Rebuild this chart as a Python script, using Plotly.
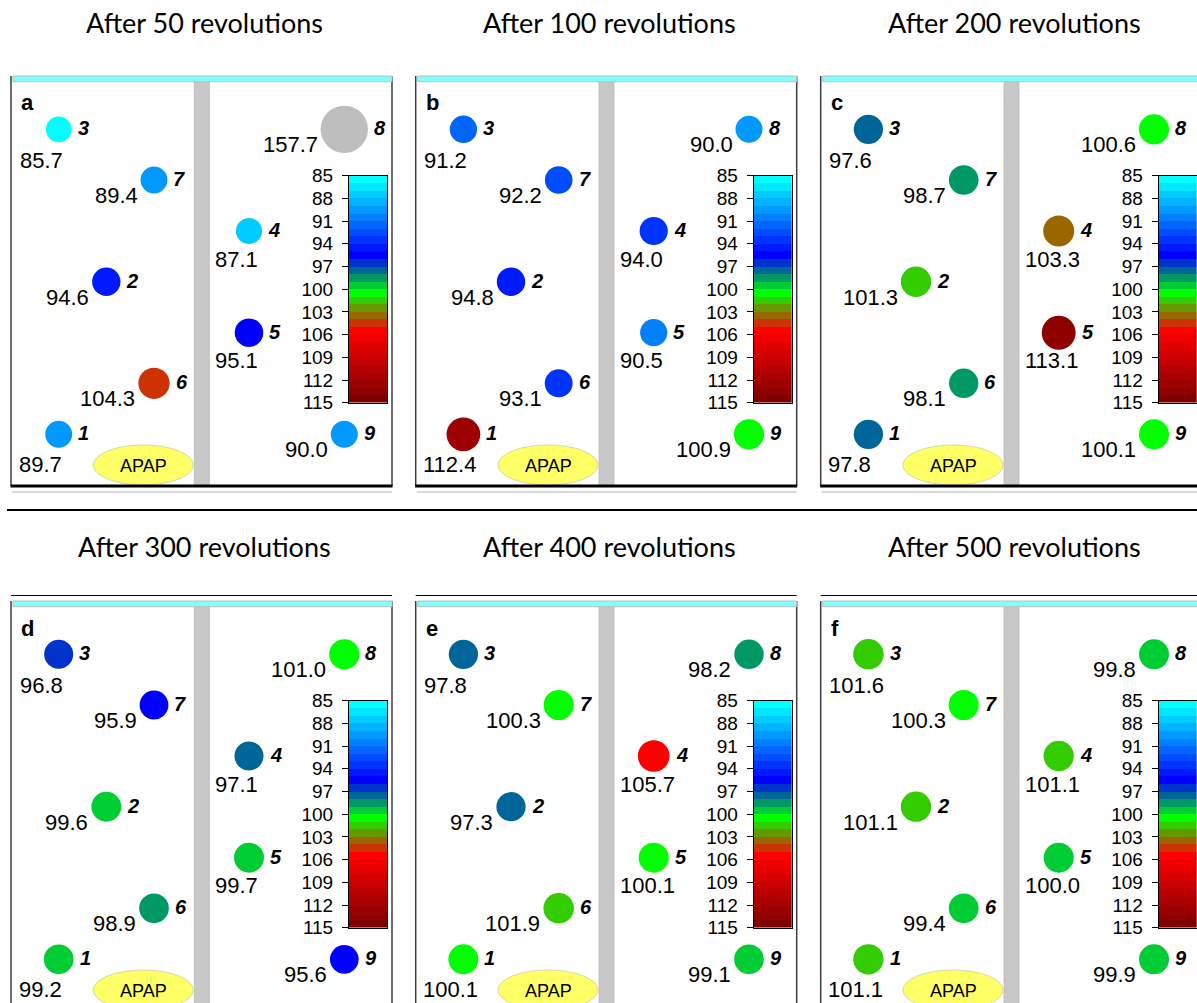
import numpy as np
import plotly.graph_objects as go

FIG_W, FIG_H = 1197, 1003

# ---------------- data ----------------
PANEL_LETTERS = ["a", "b", "c", "d", "e", "f"]
REVOLUTIONS = [50, 100, 200, 300, 400, 500]
POSITIONS = [1, 2, 3, 4, 5, 6, 7, 8, 9]

# values (% of label claim) at sample positions 1..9
VALUES_50 = [89.7, 94.6, 85.7, 87.1, 95.1, 104.3, 89.4, 157.7, 90.0]
VALUES_100 = [112.4, 94.8, 91.2, 94.0, 90.5, 93.1, 92.2, 90.0, 100.9]
VALUES_200 = [97.8, 101.3, 97.6, 103.3, 113.1, 98.1, 98.7, 100.6, 100.1]
VALUES_300 = [99.2, 99.6, 96.8, 97.1, 99.7, 98.9, 95.9, 101.0, 95.6]
VALUES_400 = [100.1, 97.3, 97.8, 105.7, 100.1, 101.9, 100.3, 98.2, 99.1]
VALUES_500 = [101.1, 101.1, 101.6, 101.1, 100.0, 99.4, 100.3, 99.8, 99.9]
PANEL_VALUES = [VALUES_50, VALUES_100, VALUES_200, VALUES_300, VALUES_400, VALUES_500]

CMIN, CMAX = 85, 115
COLOR_TICKS = [85, 88, 91, 94, 97, 100, 103, 106, 109, 112, 115]
BAND_COLORS = (
    [f"rgb(0,{g},255)" for g in [255, 230, 204, 179, 153, 128, 102, 77, 51, 26]]
    + ["rgb(0,0,255)", "rgb(0,51,204)", "rgb(0,102,153)", "rgb(0,153,102)",
       "rgb(0,204,51)", "rgb(0,255,0)", "rgb(51,204,0)", "rgb(102,153,0)",
       "rgb(153,102,0)", "rgb(204,51,0)"]
    + [f"rgb({r},0,0)" for r in [255, 241, 227, 213, 199, 185, 171, 157, 143, 128]]
)
OUT_OF_RANGE_COLOR = "rgb(190,190,190)"

# ---------------- layout constants ----------------
POS_X = np.array([47.7, 95.3, 47.7, 238.0, 238.0, 143.0, 143.0, 333.3, 333.3])
POS_Y = np.array([358.3, 205.7, 53.3, 155.0, 256.7, 307.3, 104.0, 53.3, 358.3])
# label rule: (anchor, xshift, yshift); default = right-aligned just left of marker
LABEL_RULE = {1: ("left", -42, -30.5), 3: ("left", -41, -31), 4: ("left", -36, -28), 5: ("left", -36, -28)}
SIZE_PER_UNIT = 0.3

LEFTS = [11.0, 415.7, 820.7]
TOPS = [76.0, 601.0]
PW, PH = 381.0, 410.0

NUM_FONT = "Liberation Sans, Arial, sans-serif"
TITLE_FONT = "Lato, Calibri, sans-serif"


def px2x(x):
    return x / FIG_W


def px2y(y):
    return 1 - y / FIG_H


def nm(prefix, n):
    return prefix if n == 1 else f"{prefix}{n}"


# stepped colorscale (upper-inclusive bands)
n_b = len(BAND_COLORS)
eps = 0.01
colorscale = []
for i, c in enumerate(BAND_COLORS):
    lo = 0.0 if i == 0 else (i + eps) / n_b
    hi = 1.0 if i == n_b - 1 else (i + 1 + eps) / n_b
    colorscale.append([lo, c])
    colorscale.append([hi, c])

BAND_CENTERS = np.arange(CMIN + 0.5, CMAX, 1.0)

fig = go.Figure()
axes = {}
shapes = []
annotations = []

for k in range(6):
    row, col = divmod(k, 3)
    left, top = LEFTS[col], TOPS[row]
    right = min(left + PW, FIG_W)
    bottom = min(top + PH, FIG_H)
    vw, vh = right - left, bottom - top
    am, ac = 2 * k + 1, 2 * k + 2
    xm, ym = nm("x", am), nm("y", am)
    xc, yc = nm("x", ac), nm("y", ac)

    axes[nm("xaxis", am)] = dict(domain=[px2x(left), px2x(right)], range=[0, vw],
                                 visible=False, anchor=ym, fixedrange=True)
    axes[nm("yaxis", am)] = dict(domain=[px2y(bottom), px2y(top)], range=[vh, 0],
                                 visible=False, anchor=xm, fixedrange=True)

    # colour bar axes
    cb_l, cb_r = left + 338.0, left + 376.3
    cb_t, cb_b = top + 99.7, top + 326.7
    axes[nm("xaxis", ac)] = dict(domain=[px2x(cb_l), px2x(cb_r)], range=[-0.5, 0.5],
                                 showticklabels=False, ticks="", showgrid=False, zeroline=False,
                                 showline=True, mirror=True, linecolor="black", linewidth=1,
                                 anchor=yc, fixedrange=True)
    axes[nm("yaxis", ac)] = dict(domain=[px2y(cb_b), px2y(cb_t)], range=[CMAX, CMIN],
                                 tickvals=COLOR_TICKS, ticks="outside", ticklen=6, tickwidth=1,
                                 tickcolor="black", tickfont=dict(family=NUM_FONT, size=19, color="black"),
                                 showgrid=False, zeroline=False, showline=True, mirror=True,
                                 linecolor="black", linewidth=1, side="left", anchor=xc,
                                 ticklabelstandoff=5, fixedrange=True)

    # decorations (paper px)
    shapes.append(dict(type="rect", xref="paper", yref="paper",
                       x0=px2x(left + 183.3), x1=px2x(left + 198.3),
                       y0=px2y(top + 5.7), y1=px2y(top + PH),
                       fillcolor="rgb(200,200,200)", line=dict(color="rgb(185,185,185)", width=0.8),
                       layer="below"))
    shapes.append(dict(type="circle", xref="paper", yref="paper",
                       x0=px2x(left + 82.3), x1=px2x(left + 182.3),
                       y0=px2y(top + 369.0), y1=px2y(top + 409.0),
                       fillcolor="rgb(255,255,102)", line=dict(color="rgb(215,215,170)", width=1),
                       layer="below"))
    annotations.append(dict(xref="paper", yref="paper", x=px2x(left + 132.3), y=px2y(top + 389.5),
                            text="APAP", showarrow=False, xanchor="center", yanchor="middle",
                            font=dict(family=NUM_FONT, size=18, color="black")))
    shapes.append(dict(type="line", xref="paper", yref="paper",
                       x0=px2x(left), x1=px2x(left), y0=px2y(top), y1=px2y(top + PH),
                       line=dict(color="rgb(60,60,60)", width=1.5)))
    if left + PW <= FIG_W:
        shapes.append(dict(type="line", xref="paper", yref="paper",
                           x0=px2x(left + PW), x1=px2x(left + PW), y0=px2y(top), y1=px2y(top + PH),
                           line=dict(color="rgb(60,60,60)", width=1.5)))
    shapes.append(dict(type="line", xref="paper", yref="paper",
                       x0=px2x(left - 0.5), x1=px2x(left + PW + 0.5), y0=px2y(top + PH), y1=px2y(top + PH),
                       line=dict(color="black", width=3)))
    shapes.append(dict(type="rect", xref="paper", yref="paper",
                       x0=px2x(left + 2), x1=px2x(left + PW), y0=px2y(top), y1=px2y(top + 5.7),
                       fillcolor="rgb(128,255,255)", line=dict(color="rgb(190,190,190)", width=1)))
    if row == 0:
        shapes.append(dict(type="line", xref="paper", yref="paper",
                           x0=px2x(left + 1), x1=px2x(left + PW), y0=px2y(top + 416), y1=px2y(top + 416),
                           line=dict(color="rgb(200,208,208)", width=1.5)))
    else:
        shapes.append(dict(type="line", xref="paper", yref="paper",
                           x0=px2x(left), x1=px2x(left + PW), y0=px2y(top - 5.5), y1=px2y(top - 5.5),
                           line=dict(color="black", width=1.2)))

    # title
    annotations.append(dict(xref="paper", yref="paper", x=px2x(left + PW / 2 + 3),
                            y=px2y([22, 546][row]), text=f"After {REVOLUTIONS[k]} revolutions",
                            showarrow=False, xanchor="center", yanchor="middle",
                            font=dict(family=TITLE_FONT, size=27, color="black")))
    # panel letter
    annotations.append(dict(xref=xm, yref=ym, x=8, y=27, text=f"<b>{PANEL_LETTERS[k]}</b>",
                            showarrow=False, xanchor="left", yanchor="middle",
                            font=dict(family=NUM_FONT, size=22, color="black")))

    # markers
    vals = np.array(PANEL_VALUES[k])
    inr = (vals >= CMIN) & (vals <= CMAX)
    fig.add_trace(go.Scatter(
        x=POS_X[inr], y=POS_Y[inr], mode="markers", xaxis=xm, yaxis=ym,
        marker=dict(size=vals[inr] * SIZE_PER_UNIT, color=vals[inr], colorscale=colorscale,
                    cmin=CMIN, cmax=CMAX, line=dict(width=0), opacity=1),
        hoverinfo="skip", showlegend=False))
    if (~inr).any():
        fig.add_trace(go.Scatter(
            x=POS_X[~inr], y=POS_Y[~inr], mode="markers", xaxis=xm, yaxis=ym,
            marker=dict(size=vals[~inr] * SIZE_PER_UNIT, color=OUT_OF_RANGE_COLOR,
                        line=dict(width=0), opacity=1),
            hoverinfo="skip", showlegend=False))

    # colour bar
    fig.add_trace(go.Heatmap(
        z=[[c] for c in BAND_CENTERS], x=[0], y=BAND_CENTERS, xaxis=xc, yaxis=yc,
        colorscale=colorscale, zmin=CMIN, zmax=CMAX, showscale=False, hoverinfo="skip"))

    # labels
    for i, p in enumerate(POSITIONS):
        v = vals[i]
        r = v * SIZE_PER_UNIT / 2
        if p in LABEL_RULE:
            anchor, xs, ys = LABEL_RULE[p]
        else:
            anchor, xs, ys = "right", -(r + 1), -15.5
        annotations.append(dict(xref=xm, yref=ym, x=POS_X[i], y=POS_Y[i], text=f"{v:.1f}",
                                showarrow=False, xanchor=anchor, yanchor="middle",
                                xshift=xs, yshift=ys,
                                font=dict(family=NUM_FONT, size=22, color="black")))
        annotations.append(dict(xref=xm, yref=ym, x=POS_X[i], y=POS_Y[i], text=f"<b><i>{p}</i></b>",
                                showarrow=False, xanchor="left", yanchor="middle",
                                xshift=r + 4, yshift=1,
                                font=dict(family=NUM_FONT, size=20, color="black")))

# separator line
shapes.append(dict(type="line", xref="paper", yref="paper", x0=px2x(7), x1=1,
                   y0=px2y(510), y1=px2y(510), line=dict(color="black", width=2)))

fig.update_layout(
    width=FIG_W, height=FIG_H,
    margin=dict(l=0, r=0, t=0, b=0, pad=0, autoexpand=False),
    paper_bgcolor="white", plot_bgcolor="rgba(0,0,0,0)",
    shapes=shapes, annotations=annotations, showlegend=False,
    **axes,
)

fig.write_html("out.html")
